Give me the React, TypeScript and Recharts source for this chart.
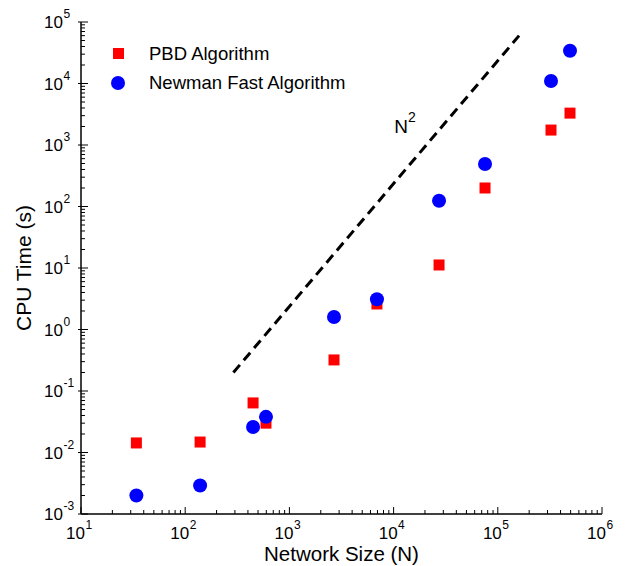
import React from 'react';
import { ScatterChart, Scatter, XAxis, YAxis, Legend, ReferenceDot, Label } from 'recharts';

// network sizes and timings
const networkSize = [34, 139, 448, 596, 2680, 6920, 27300, 75400, 324000, 493000];
const pbdTime = [0.0143, 0.0148, 0.064, 0.030, 0.32, 2.6, 11.2, 200, 1750, 3300];
const newmanTime = [0.002, 0.0029, 0.026, 0.038, 1.6, 3.1, 124, 490, 11000, 34000];

// endpoints of the dashed N^2 guide
const guideSize = [290, 160000];
const guideTime = [0.2, 60000];

const xDecades = [10, 100, 1000, 10000, 100000, 1000000];
const yDecades = [0.001, 0.01, 0.1, 1, 10, 100, 1000, 10000, 100000];
const minorSteps = [2, 3, 4, 5, 6, 7, 8, 9];

const legendItems = [
  { label: 'PBD Algorithm', color: '#ff0000', marker: 'square' },
  { label: 'Newman Fast Algorithm', color: '#0000ff', marker: 'circle' },
];

const pbdData = networkSize.map((n, i) => ({ n, t: pbdTime[i] }));
const newmanData = networkSize.map((n, i) => ({ n, t: newmanTime[i] }));
const guideData = guideSize.map((n, i) => ({ n, t: guideTime[i] }));

const withMinors = (decades: number[]) => {
  const out: number[] = [];
  decades.forEach((d, i) => {
    out.push(d);
    if (i < decades.length - 1) minorSteps.forEach(m => out.push(d * m));
  });
  return out;
};
const xTicks = withMinors(xDecades);
const yTicks = withMinors(yDecades);

const FONT = '"Liberation Sans", Arial, sans-serif';
const isMajor = (v: number) => Math.abs(Math.log10(v) - Math.round(Math.log10(v))) < 1e-9;
const expOf = (v: number) => Math.round(Math.log10(v));

const BottomTick = (props: any) => {
  const { x, y, payload } = props;
  const major = isMajor(payload.value);
  return (
    <g fontFamily={FONT} fill="#000">
      <line x1={x} x2={x} y1={y} y2={y - (major ? 7 : 4)} stroke="#000" strokeWidth={1} />
      {major && (
        <>
          <text x={x + 4} y={y + 25} textAnchor="end" fontSize={17}>10</text>
          <text x={x + 4.5} y={y + 15} textAnchor="start" fontSize={12}>{expOf(payload.value)}</text>
        </>
      )}
    </g>
  );
};

const TopTick = (props: any) => {
  const { x, y, payload } = props;
  const major = isMajor(payload.value);
  return <line x1={x} x2={x} y1={y} y2={y + (major ? 7 : 4)} stroke="#000" strokeWidth={1} />;
};

const LeftTick = (props: any) => {
  const { x, y, payload } = props;
  const major = isMajor(payload.value);
  return (
    <g fontFamily={FONT} fill="#000">
      <line x1={x - (major ? 3 : 0)} x2={x + (major ? 7 : 4)} y1={y} y2={y} stroke="#000" strokeWidth={1} />
      {major && (
        <>
          <text x={x - 18} y={y + 6} textAnchor="end" fontSize={17}>10</text>
          <text x={x - 17.5} y={y - 4} textAnchor="start" fontSize={12}>{expOf(payload.value)}</text>
        </>
      )}
    </g>
  );
};

const RightTick = (props: any) => {
  const { x, y, payload } = props;
  const major = isMajor(payload.value);
  return <line x1={x} x2={x - (major ? 7 : 4)} y1={y} y2={y} stroke="#000" strokeWidth={1} />;
};

const Square = (props: any) => (
  <rect x={props.cx - 5.5} y={props.cy - 5.5} width={11} height={11} fill="#ff0000" />
);
const Dot = (props: any) => <circle cx={props.cx} cy={props.cy} r={7} fill="#0000ff" />;

const LegendBox = () => (
  <div style={{ fontFamily: FONT, fontSize: 18.5 }}>
    {legendItems.map(item => (
      <div key={item.label} style={{ display: 'flex', alignItems: 'center', height: 29 }}>
        <div style={{ width: 20, display: 'flex', justifyContent: 'center' }}>
          <div
            style={{
              width: item.marker === 'square' ? 11 : 14,
              height: item.marker === 'square' ? 11 : 14,
              borderRadius: item.marker === 'square' ? 0 : 7,
              background: item.color,
            }}
          />
        </div>
        <span style={{ marginLeft: 21, color: '#000', whiteSpace: 'nowrap' }}>{item.label}</span>
      </div>
    ))}
  </div>
);

const axisLine = { stroke: '#000', strokeWidth: 1.5 };

export default function App() {
  return (
    <div style={{ position: 'absolute', left: 0, top: 0, background: '#fff' }}>
      <ScatterChart width={627} height={566} margin={{ top: 22, right: 25, bottom: 0, left: 0 }}>
        <XAxis
          xAxisId="b"
          dataKey="n"
          type="number"
          scale="log"
          domain={[10, 1000000]}
          allowDataOverflow
          ticks={xTicks}
          interval={0}
          tickSize={0}
          tickMargin={0}
          tickLine={false}
          axisLine={axisLine}
          tick={<BottomTick />}
          height={52}
        >
          <Label
            content={(p: any) => (
              <text
                x={p.viewBox.x + p.viewBox.width / 2}
                y={p.viewBox.y + 47}
                textAnchor="middle"
                fontSize={20.5}
                fontFamily={FONT}
                fill="#000"
              >
                Network Size (N)
              </text>
            )}
          />
        </XAxis>
        <XAxis
          xAxisId="t"
          orientation="top"
          dataKey="n"
          type="number"
          scale="log"
          domain={[10, 1000000]}
          allowDataOverflow
          ticks={xTicks}
          interval={0}
          tickSize={0}
          tickMargin={0}
          tickLine={false}
          axisLine={axisLine}
          tick={<TopTick />}
          height={0}
        />
        <YAxis
          yAxisId="l"
          dataKey="t"
          type="number"
          scale="log"
          domain={[0.001, 100000]}
          allowDataOverflow
          ticks={yTicks}
          interval={0}
          tickSize={0}
          tickMargin={0}
          tickLine={false}
          axisLine={axisLine}
          tick={<LeftTick />}
          width={81}
        >
          <Label
            content={(p: any) => {
              const cy = p.viewBox.y + p.viewBox.height / 2;
              return (
                <text
                  x={0}
                  y={0}
                  transform={`translate(31, ${cy}) rotate(-90)`}
                  textAnchor="middle"
                  fontSize={21}
                  fontFamily={FONT}
                  fill="#000"
                >
                  CPU Time (s)
                </text>
              );
            }}
          />
        </YAxis>
        <YAxis
          yAxisId="r"
          orientation="right"
          dataKey="t"
          type="number"
          scale="log"
          domain={[0.001, 100000]}
          allowDataOverflow
          ticks={yTicks}
          interval={0}
          tickSize={0}
          tickMargin={0}
          tickLine={false}
          axisLine={axisLine}
          tick={<RightTick />}
          width={0}
        />
        <Legend
          layout="horizontal"
          verticalAlign="middle"
          align="center"
          content={<LegendBox />}
          wrapperStyle={{ position: 'absolute', left: 108, top: 39, width: 'auto' }}
        />
        <Scatter
          name="N2"
          xAxisId="b"
          yAxisId="l"
          data={guideData}
          line={{ stroke: '#000', strokeWidth: 3, strokeDasharray: '10 6' }}
          shape={() => <g />}
          legendType="none"
          isAnimationActive={false}
        />
        <Scatter
          name="PBD Algorithm"
          xAxisId="b"
          yAxisId="l"
          data={pbdData}
          shape={<Square />}
          isAnimationActive={false}
        />
        <Scatter
          name="Newman Fast Algorithm"
          xAxisId="b"
          yAxisId="l"
          data={newmanData}
          shape={<Dot />}
          isAnimationActive={false}
        />
        <ReferenceDot
          xAxisId="b"
          yAxisId="l"
          x={12900}
          y={1950}
          r={0}
          fill="none"
          stroke="none"
          label={(p: any) => (
            <text
              x={p.viewBox.x + p.viewBox.width / 2}
              y={p.viewBox.y + p.viewBox.height / 2 + 6}
              textAnchor="middle"
              fontSize={19}
              fontFamily={FONT}
              fill="#000"
            >
              N<tspan dy={-11} fontSize={14}>2</tspan>
            </text>
          )}
        />
      </ScatterChart>
    </div>
  );
}
